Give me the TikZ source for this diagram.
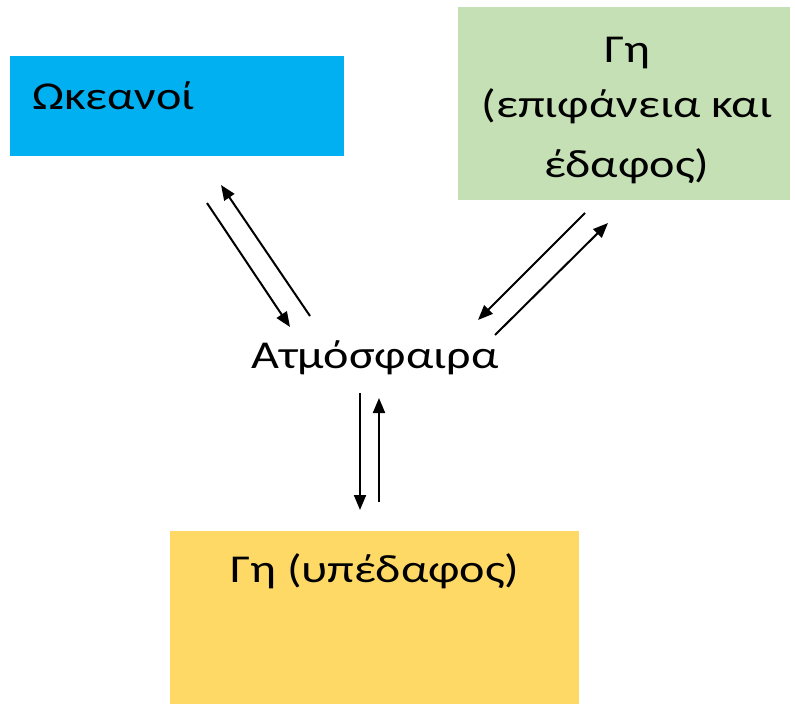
\documentclass[tikz,border=0pt]{standalone}
\usepackage{fontspec}
\usepackage{graphicx}
\setmainfont{Carlito}
\usetikzlibrary{arrows.meta}
\definecolor{oceanblue}{HTML}{00B0F0}
\definecolor{landgreen}{HTML}{C5E0B4}
\definecolor{soilyellow}{HTML}{FFD966}
% text is set slightly wide
\newcommand{\widetext}[1]{\scalebox{1.22}[1]{#1}}
\begin{document}
\begin{tikzpicture}[x=1pt,y=-1pt,
  panel/.style={draw=none, inner sep=0pt, anchor=north west},
  lbl/.style={font=\fontsize{39.5}{48}\selectfont, inner sep=0pt, anchor=base},
  flow/.style={line width=2pt, -{Triangle[length=15pt,width=12pt]}}]
\useasboundingbox (0,0) rectangle (795,706);

% reservoirs
\node[panel, fill=oceanblue, minimum width=334pt, minimum height=100pt] (oceans) at (10,56) {};
\node[panel, fill=landgreen, minimum width=332pt, minimum height=193pt] (surface) at (458,7) {};
\node[panel, fill=soilyellow, minimum width=409pt, minimum height=173pt] (subsoil) at (170,531) {};

% labels
\node[lbl, anchor=base west] (toceans) at (32,110) {\widetext{Ωκεανοί}};
\node[lbl] (tsurf1) at (627,63) {\widetext{Γη}};
\node[lbl] (tsurf2) at (627,118) {\widetext{(επιφάνεια και}};
\node[lbl] (tsurf3) at (627,177) {\widetext{έδαφος)}};
\node[lbl] (atmo) at (375,368) {\widetext{Ατμόσφαιρα}};
\node[lbl] (tsub) at (375,582) {\widetext{Γη (υπέδαφος)}};

% arrow end points
\coordinate (oa1) at (207,203); \coordinate (oa2) at (290,327);
\coordinate (ao1) at (310,316); \coordinate (ao2) at (221,185);
\coordinate (sa1) at (585,213); \coordinate (sa2) at (478,320);
\coordinate (as1) at (495,335); \coordinate (as2) at (608,223);
\coordinate (ab1) at (360,393); \coordinate (ab2) at (360,510);
\coordinate (ba1) at (379,502); \coordinate (ba2) at (379,398);

% exchanges
\draw[flow] (oa1) -- (oa2);
\draw[flow] (ao1) -- (ao2);
\draw[flow] (sa1) -- (sa2);
\draw[flow] (as1) -- (as2);
\draw[flow] (ab1) -- (ab2);
\draw[flow] (ba1) -- (ba2);
\end{tikzpicture}
\end{document}
